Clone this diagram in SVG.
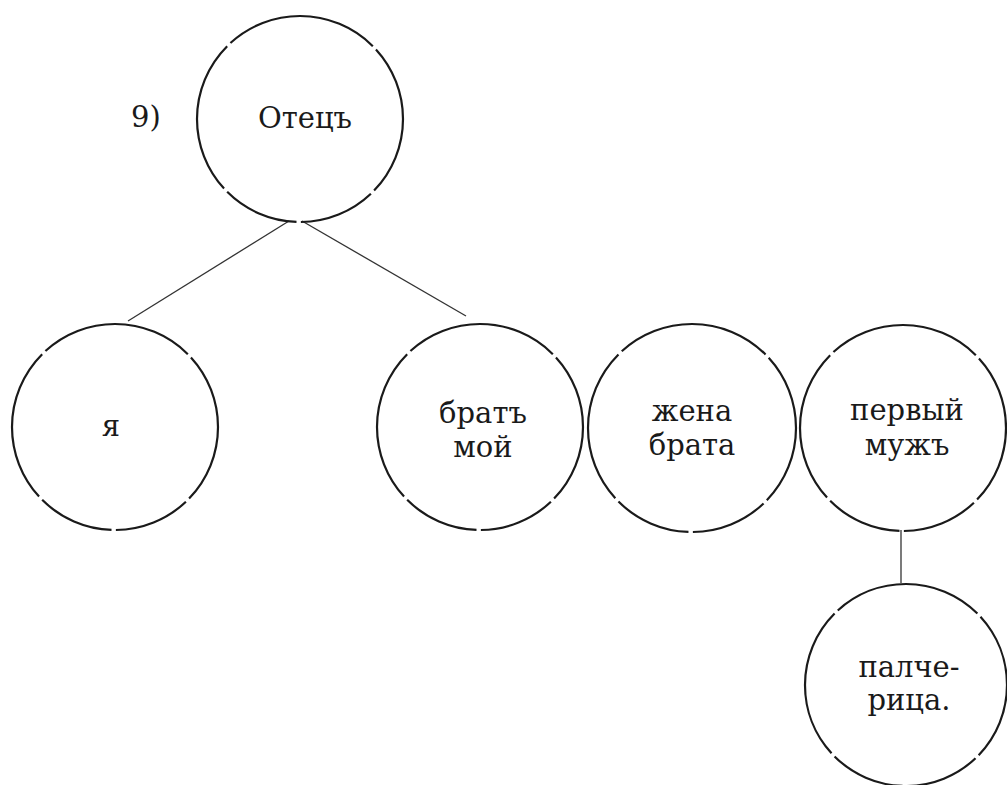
<svg xmlns="http://www.w3.org/2000/svg" width="1007" height="785" viewBox="0 0 1007 785">
<style>
.bg{fill:#ffffff}
.node circle{fill:none;stroke:#1a1a1a;stroke-width:2.2;stroke-dasharray:44 2.5 43 2.5 43 2.5 87.5 2.5 87.5 2.5 42.5}
.node text,.lbl{font-family:"DejaVu Serif","Liberation Serif",serif;font-size:29px;fill:#1a1a1a;text-anchor:middle}
.conn line{stroke:#333;stroke-width:1.3}
</style>
<rect class="bg" x="0" y="0" width="1007" height="785"/>
<text class="lbl" x="146" y="127">9)</text>
<g class="conn">
<line x1="289" y1="221" x2="128" y2="321"/>
<line x1="302" y1="221" x2="466" y2="316"/>
<line x1="901" y1="530" x2="901" y2="583"/>
</g>
<g class="node" id="otets">
<circle cx="300" cy="119" r="103" pathLength="360"/>
<text x="305" y="128">Отецъ</text>
</g>
<g class="node" id="ya">
<circle cx="115" cy="427" r="103" pathLength="360"/>
<text x="111" y="436">я</text>
</g>
<g class="node" id="brat">
<circle cx="480" cy="427" r="103" pathLength="360"/>
<text x="483" y="423">братъ</text>
<text x="483" y="457">мой</text>
</g>
<g class="node" id="zhena">
<circle cx="692" cy="428" r="104" pathLength="360"/>
<text x="692" y="421">жена</text>
<text x="692" y="455">брата</text>
</g>
<g class="node" id="muzh">
<circle cx="903" cy="428" r="103" pathLength="360"/>
<text x="907" y="420">первый</text>
<text x="907" y="455">мужъ</text>
</g>
<g class="node" id="padcheritsa">
<circle cx="906" cy="685" r="101" pathLength="360"/>
<text x="909" y="677">палче-</text>
<text x="909" y="710">рица.</text>
</g>
</svg>
